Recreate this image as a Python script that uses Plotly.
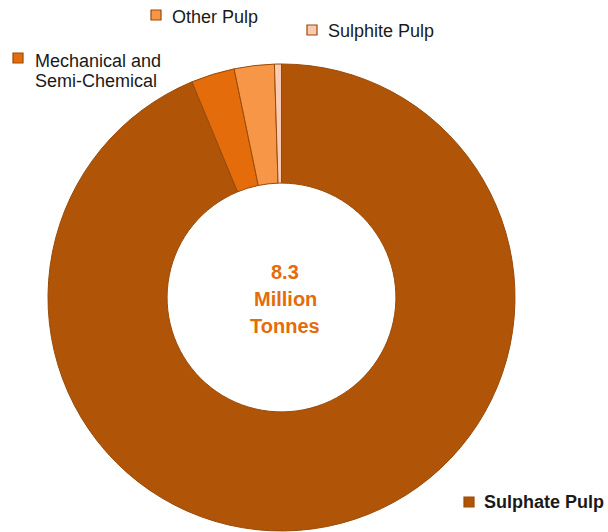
import plotly.graph_objects as go

# Pulp production by grade (million tonnes)
grades = ["Sulphate Pulp", "Mechanical and Semi-Chemical", "Other Pulp", "Sulphite Pulp"]
volumes = [7.78, 0.25, 0.23, 0.04]
colors = ["#B05407", "#E46C0A", "#F79646", "#FBCAB2"]
total_label = ["8.3", "Million", "Tonnes"]

W, H = 608, 532


def px(x):
    return x / W


def py(y):
    return 1 - y / H


fig = go.Figure(
    go.Pie(
        labels=grades,
        values=volumes,
        hole=0.49,
        sort=False,
        direction="clockwise",
        rotation=0,
        marker=dict(colors=colors, line=dict(color="#9A4A08", width=1)),
        textinfo="none",
        hoverinfo="label+value",
        domain=dict(x=[px(48), px(515)], y=[py(531), py(64)]),
        showlegend=False,
    )
)

label_font = dict(family="Liberation Sans, Arial, sans-serif", size=18, color="#1a1a1a")

# Callout labels with colour keys
callouts = [
    # (lines, key left x, key top y, text left x, first line centre y, colour, bold)
    (["Other Pulp"], 151, 10, 170, 17, colors[2], False),
    (["Sulphite Pulp"], 307, 25, 326, 31, colors[3], False),
    (["Mechanical and", "Semi-Chemical"], 13, 53, 33, 61, colors[1], False),
    (["Sulphate Pulp"], 464, 497, 482, 502, colors[0], True),
]

annotations = []
shapes = []
for lines, kx, ky, tx, ty, col, bold in callouts:
    shapes.append(
        dict(
            type="rect", xref="paper", yref="paper",
            x0=px(kx), x1=px(kx + 10), y0=py(ky + 10), y1=py(ky),
            fillcolor=col, line=dict(color="#9A4A08", width=1.2),
        )
    )
    for i, line in enumerate(lines):
        txt = f"<b>{line}</b>" if bold else line
        annotations.append(
            dict(
                text=txt, xref="paper", yref="paper",
                x=px(tx), y=py(ty + i * 20),
                xanchor="left", yanchor="middle",
                showarrow=False, font=label_font,
            )
        )

# Total in the centre of the ring
for i, line in enumerate(total_label):
    annotations.append(
        dict(
            text=f"<b>{line}</b>", xref="paper", yref="paper",
            x=px(285), y=py(272 + i * 27),
            xanchor="center", yanchor="middle", showarrow=False,
            font=dict(family="Liberation Sans, Arial, sans-serif", size=20, color="#E46C0A"),
        )
    )

fig.update_layout(
    width=W,
    height=H,
    margin=dict(l=0, r=0, t=0, b=0),
    paper_bgcolor="white",
    plot_bgcolor="white",
    annotations=annotations,
    shapes=shapes,
)

fig.write_html("out.html")
